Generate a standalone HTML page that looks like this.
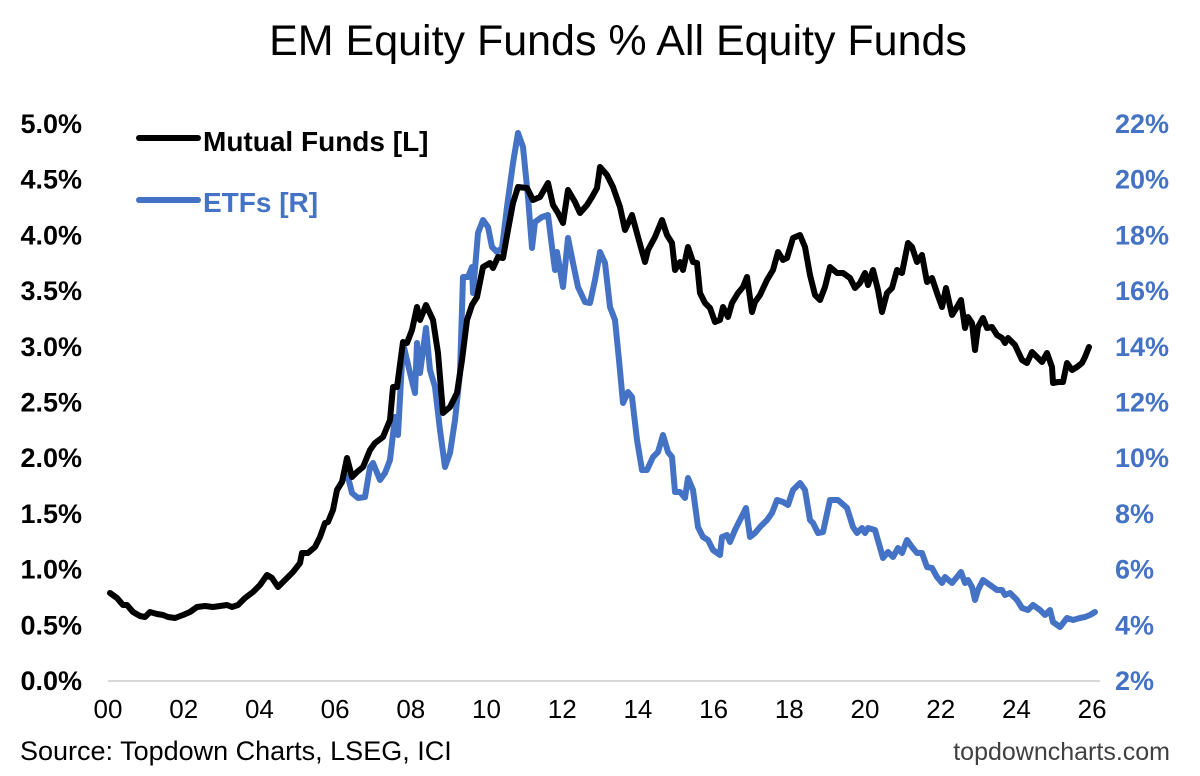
<!DOCTYPE html>
<html><head><meta charset="utf-8"><style>
body{margin:0;background:#fff;}
svg text{font-family:"Liberation Sans",Arial,sans-serif;}
</style></head><body>
<svg width="1200" height="771" viewBox="0 0 1200 771" xmlns="http://www.w3.org/2000/svg">
<rect width="1200" height="771" fill="#fff"/>
<text x="618" y="55" font-size="43" text-anchor="middle" fill="#000">EM Equity Funds % All Equity Funds</text>
<g id="yl" font-size="27" font-weight="bold" text-anchor="end" fill="#000"></g>
<g id="yr" font-size="27" font-weight="bold" fill="#4472C4"></g>
<g id="xl" font-size="26" text-anchor="middle" fill="#000"></g>
<line x1="108" y1="681" x2="1100" y2="681" stroke="#d9d9d9" stroke-width="2"/>
<polyline id="blue" fill="none" stroke="#4472C4" stroke-width="6" stroke-linejoin="round" stroke-linecap="round"/>
<polyline id="black" fill="none" stroke="#000" stroke-width="6" stroke-linejoin="round" stroke-linecap="round"/>
<line x1="139" y1="138" x2="198" y2="138" stroke="#000" stroke-width="6" stroke-linecap="round"/>
<text x="203" y="151" font-size="28" font-weight="bold" fill="#000">Mutual Funds [L]</text>
<line x1="139" y1="200" x2="198" y2="200" stroke="#4472C4" stroke-width="6" stroke-linecap="round"/>
<text x="203" y="212" font-size="28" font-weight="bold" fill="#4472C4">ETFs [R]</text>
<text x="20" y="760" font-size="27" fill="#000">Source: Topdown Charts, LSEG, ICI</text>
<text x="1170" y="760" font-size="25" text-anchor="end" fill="#404040">topdowncharts.com</text>
</svg>
<script>
var NS="http://www.w3.org/2000/svg";
function t(g,x,y,s){var e=document.createElementNS(NS,"text");e.setAttribute("x",x);e.setAttribute("y",y);e.textContent=s;document.getElementById(g).appendChild(e);}
for(var i=0;i<=10;i++){var y=680-i*55.7;t("yl",82,y+10,(i*0.5).toFixed(1)+"%");t("yr",1115,y+10,(2+2*i)+"%");}
for(var i=0;i<=13;i++){var v=2*i;t("xl",108+i*75.7,718,(v<10?"0":"")+v);}
var bk=[110,593,117,598,123,605,127,605,133,612,140,616,145,617,150,612,157,614,163,615,168,617,175,618,183,615,190,612,197,607,205,606,213,607,220,606,227,605,232,607,238,605,245,598,253,592,260,585,267,575,272,578,278,587,285,580,293,572,300,563,302,553,308,553,315,547,320,537,325,523,328,522,333,510,337,490,342,482,347,458,352,477,357,472,363,467,370,450,375,443,383,437,390,420,393,387,397,387,403,342,407,343,412,330,417,307,420,320,426,305,433,320,438,353,443,413,450,407,457,393,462,360,467,320,472,305,477,297,483,267,490,263,493,268,498,257,503,258,508,230,513,203,518,187,527,188,533,200,540,197,548,183,553,205,558,213,563,223,568,190,575,202,580,213,587,205,592,197,597,188,600,167,607,175,613,187,620,207,625,230,632,215,638,237,645,262,648,250,655,237,662,220,667,235,672,243,675,270,680,262,683,270,688,247,693,262,697,263,700,293,705,303,710,308,715,322,720,320,723,307,728,317,732,303,738,293,743,287,747,277,752,312,755,302,760,295,767,280,773,270,778,252,783,260,787,258,793,238,800,235,805,247,810,275,815,295,820,300,825,287,830,267,837,273,843,273,850,278,855,288,860,283,865,273,868,285,873,270,878,290,882,312,887,293,892,288,897,270,902,273,908,243,912,247,917,262,922,255,927,282,932,278,937,293,942,307,946,288,952,315,957,307,961,300,965,328,968,317,972,323,975,350,978,327,983,318,987,328,992,327,997,335,1002,338,1005,343,1008,338,1015,345,1022,360,1027,363,1032,352,1037,357,1042,362,1047,353,1052,367,1053,383,1058,382,1063,382,1067,363,1072,370,1077,367,1082,363,1085,357,1089,347];
var bl=[337,490,347,473,352,493,358,498,365,497,370,467,373,463,380,480,385,473,390,460,395,417,398,435,403,343,410,373,415,393,417,343,420,373,426,328,430,370,435,387,440,430,445,467,450,453,455,420,460,373,463,277,468,277,472,267,473,293,478,233,483,220,488,227,492,247,497,252,502,248,507,207,513,163,518,133,523,147,528,197,532,248,535,222,542,217,548,215,552,247,555,270,557,252,563,287,568,238,573,263,578,287,585,302,590,303,595,280,600,252,605,263,610,307,615,320,619,360,623,403,628,392,632,397,637,440,642,470,647,470,653,457,658,452,663,435,668,452,672,457,675,492,680,492,685,498,688,478,693,490,698,527,703,537,708,540,713,550,720,555,722,537,727,535,730,542,735,530,740,520,746,508,750,537,755,533,760,527,767,520,772,513,777,500,783,502,788,505,793,490,800,483,805,490,810,520,813,523,818,533,823,532,830,500,838,500,847,508,853,527,857,533,862,528,865,533,868,528,875,530,883,558,888,552,893,557,898,548,902,553,907,540,912,547,917,553,922,553,927,567,932,568,937,577,942,583,945,577,952,583,957,577,961,572,965,583,968,580,972,587,975,600,978,590,983,580,990,585,997,590,1002,590,1005,595,1010,593,1017,600,1022,608,1028,610,1033,605,1040,610,1045,615,1050,610,1053,622,1060,627,1067,618,1073,620,1080,618,1085,617,1090,615,1095,612];
function pts(a){var s=[];for(var i=0;i<a.length;i+=2){s.push(a[i]+","+a[i+1]);}return s.join(" ");}
document.getElementById("black").setAttribute("points",pts(bk));
document.getElementById("blue").setAttribute("points",pts(bl));
</script>
</body></html>
